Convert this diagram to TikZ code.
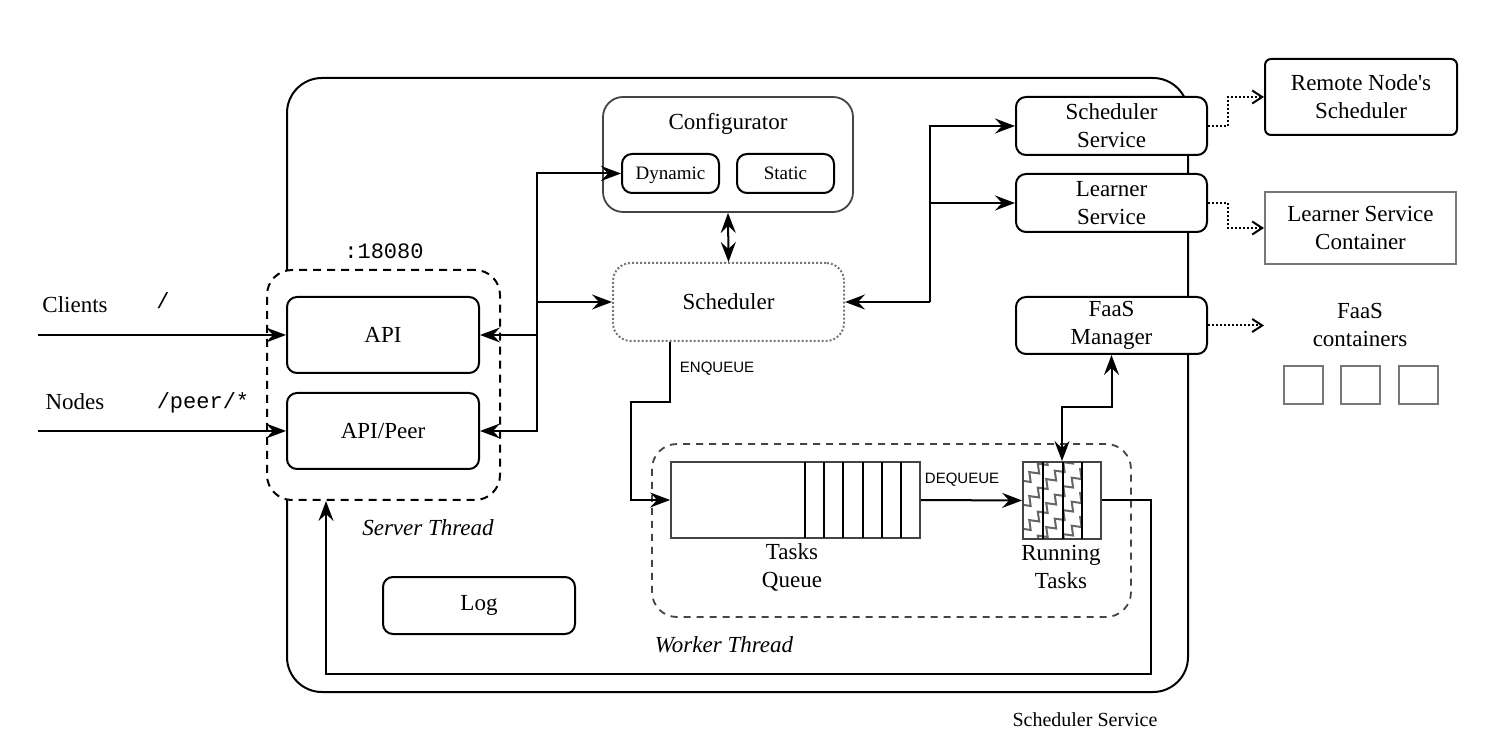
\documentclass[tikz,border=0pt]{standalone}
\usepackage{fontspec}
\setmainfont{Liberation Serif}
\setsansfont{Liberation Sans}
\setmonofont{Liberation Mono}
\usetikzlibrary{arrows.meta,decorations.pathmorphing}
\definecolor{dgray}{HTML}{444444}
\definecolor{mgray}{HTML}{777777}
\begin{document}
\begin{tikzpicture}[x=0.5pt,y=-0.5pt,
  every node/.style={font=\fontsize{11.5}{14}\selectfont, inner sep=0pt, align=center},
  blk/.style={draw, line width=1pt, rounded corners=5pt, fill=white},
  smallfont/.style={font=\fontsize{9.5}{11}\selectfont, text height=1.6ex, text depth=0.25ex},
  monofont/.style={font=\ttfamily\fontsize{11}{13}\selectfont},
  sansfont/.style={font=\sffamily\fontsize{7.5}{9}\selectfont},
  itfont/.style={font=\itshape\fontsize{11.5}{14}\selectfont},
  arr/.style={line width=1pt, -{Stealth[length=10pt,width=7.5pt,inset=3.5pt]}},
  arrboth/.style={line width=1pt, {Stealth[length=10pt,width=7.5pt,inset=3.5pt]}-{Stealth[length=10pt,width=7.5pt,inset=3.5pt]}},
  dotarr/.style={line width=1pt, densely dotted, -{Straight Barb[length=5pt,width=6.5pt]}},
]
\useasboundingbox (0,0) rectangle (1487,742);

% outer service box
\node[draw, line width=1pt, rounded corners=17.5pt, minimum width=450.5pt, minimum height=307pt] (outer) at (737.5,385) {};
\node[font=\fontsize{10}{12}\selectfont] (outerlbl) at (1085,720) {Scheduler Service};

% server thread
\node[draw, line width=1pt, dash pattern=on 4pt off 3pt, rounded corners=12.5pt, fill=white, minimum width=116.5pt, minimum height=115pt] (server) at (383.5,385) {};
\node[monofont] (port) at (384,251) {:18080};
\node[itfont] (srvlbl) at (428,528) {Server Thread};
\node[blk, minimum width=96pt, minimum height=38pt] (api) at (383,335) {API};
\node[blk, minimum width=96pt, minimum height=38pt] (peer) at (383,431) {API/Peer};

% inputs
\node (clients) at (75,305) {Clients};
\node[monofont] (slash) at (163,301) {/};
\node (nodes) at (75,402) {Nodes};
\node[monofont] (peerpath) at (203,403) {/peer/*};
\coordinate (cin) at (38,335);
\coordinate (nin) at (38,431);

% configurator
\node[draw=dgray, line width=0.9pt, rounded corners=10pt, fill=white, minimum width=125pt, minimum height=57.5pt] (config) at (728,154.5) {};
\node (configlbl) at (728,124) {Configurator};
\node[blk, smallfont, minimum width=48.5pt, minimum height=19.5pt] (dyn) at (670.5,173.5) {Dynamic};
\node[blk, smallfont, minimum width=48.5pt, minimum height=19.5pt] (stat) at (785.5,173.5) {Static};

% scheduler
\node[draw=mgray, line width=1pt, densely dotted, rounded corners=9pt, minimum width=115.5pt, minimum height=39pt] (sched) at (728.5,302) {Scheduler};

% services
\node[blk, minimum width=95.5pt, minimum height=29pt] (ssvc) at (1111.5,126) {Scheduler\\Service};
\node[blk, minimum width=95.5pt, minimum height=29pt] (lsvc) at (1111.5,203) {Learner\\Service};
\node[blk, minimum width=95.5pt, minimum height=28.5pt] (faas) at (1111.5,325.5) {FaaS\\Manager};

\node[draw, line width=1pt, rounded corners=3pt, minimum width=96pt, minimum height=38pt] (remote) at (1361,97) {Remote Node\textquotesingle s\\Scheduler};
\node[draw=mgray, line width=1pt, minimum width=95.5pt, minimum height=36pt] (lcont) at (1360.5,228) {Learner Service\\Container};
\node (fclbl) at (1360,325) {FaaS\\containers};
\node[draw=mgray, line width=1pt, minimum width=19.5pt, minimum height=19pt] (fc1) at (1303.5,385) {};
\node[draw=mgray, line width=1pt, minimum width=19.5pt, minimum height=19pt] (fc2) at (1360.5,385) {};
\node[draw=mgray, line width=1pt, minimum width=19.5pt, minimum height=19pt] (fc3) at (1418.5,385) {};
\coordinate (fcin) at (1264,325.5);

% worker thread
\node[draw=dgray, line width=0.9pt, dash pattern=on 3.5pt off 3pt, rounded corners=12.5pt, minimum width=239.5pt, minimum height=86.5pt] (worker) at (891.5,530.5) {};
\node[itfont] (wrklbl) at (724,645) {Worker Thread};

\node[draw=dgray, line width=0.9pt, minimum width=124.5pt, minimum height=38pt] (queue) at (795.5,500) {};
\foreach \xx in {805,824,843,863,882,901}
  \draw[line width=0.8pt] (\xx,462) -- (\xx,538);
\node (qlbl) at (792,567) {Tasks\\Queue};

\begin{scope}
  \clip (1023,462) rectangle (1082,539);
  \foreach \k in {0,...,9}
    \draw[gray!80!black, line width=1pt, decorate, decoration={zigzag,segment length=6pt,amplitude=2pt}] (1013,470+\k*24) -- ++(80,-80);
\end{scope}
\node[draw=dgray, line width=0.9pt, minimum width=39pt, minimum height=38.5pt] (run) at (1062,500.5) {};
\foreach \xx in {1043,1063,1082}
  \draw[line width=0.8pt] (\xx,462) -- (\xx,539);
\node (rlbl) at (1061,567) {Running\\Tasks};

% log
\node[blk, minimum width=96pt, minimum height=28.5pt] (log) at (479,605.5) {Log};

% connectors
\draw[arr] (cin) -- (api.west);
\draw[arr] (nin) -- (peer.west);

\coordinate (jl) at (537,302);
\draw[arr] (jl) |- (dyn.west);
\draw[arr] (jl) -- (sched.west);
\draw[arr] (jl) |- (api.east);
\draw[arr] (jl) |- (peer.east);

\draw[arrboth] (config.south) -- (sched.north);

\coordinate (jr) at (930,302);
\draw[arr] (jr) -- (sched.east);
\draw[arr] (jr) |- (ssvc.west);
\draw[arr] (jr) |- (lsvc.west);

\draw[dotarr] (ssvc.east) -- ++(20,0) |- (remote.west);
\draw[dotarr] (lsvc.east) -- ++(20,0) |- (lcont.west);
\draw[dotarr] (faas.east) -- (fcin);

\draw[arrboth] (run.north) -- ++(0,-54) -| (faas.south);

\draw[arr] (queue.east) -- (run.west);
\node[sansfont] (deq) at (962,480) {DEQUEUE};
\draw[arr] (sched.south -| queue.west) -- ++(0,60) -- ++(-39,0) |- (queue.west);
\node[sansfont] (enq) at (717,369) {ENQUEUE};

\draw[arr] (run.east) -- ++(49,0) -- ++(0,173) -| ([xshift=-28.75pt]server.south);
\end{tikzpicture}
\end{document}
